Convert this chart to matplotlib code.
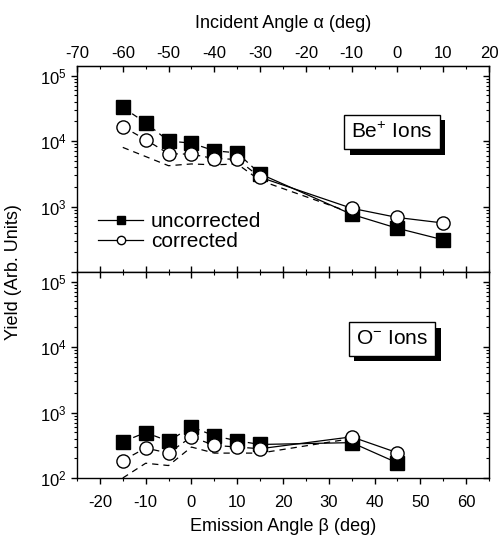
import matplotlib
matplotlib.use('Agg')
import matplotlib.pyplot as plt
import matplotlib.patheffects as pe
from matplotlib.lines import Line2D
from matplotlib.ticker import MultipleLocator, LogLocator, NullFormatter

plt.rcParams['font.family'] = ['Liberation Sans', 'DejaVu Sans']
plt.rcParams['mathtext.fontset'] = 'custom'
plt.rcParams['mathtext.rm'] = 'Liberation Sans'
plt.rcParams['mathtext.it'] = 'Liberation Sans:italic'
plt.rcParams['mathtext.default'] = 'regular'
plt.rcParams['axes.unicode_minus'] = False

# emission angle beta (deg)
beta = [-15, -10, -5, 0, 5, 10, 15, 35, 45, 55]

# Be+ ions
be_uncorr = [32600, 19000, 10000, 9300, 7100, 6600, 3150, 760, 465, 310]
be_corr = [16600, 10500, 6400, 6300, 5400, 5250, 2800, 940, 680, 560]
be_dash_x = [-15, -5, 0, 5, 10, 15, 35]
be_dash = [8000, 4200, 4470, 4330, 4470, 2500, 800]

# O- ions
o_beta = [-15, -10, -5, 0, 5, 10, 15, 35, 45]
o_uncorr = [357, 495, 365, 607, 440, 370, 325, 347, 170]
o_corr = [185, 287, 240, 425, 315, 297, 280, 425, 243]
o_dash_x = [-15, -10, -5, 0, 5, 10, 15, 35]
o_dash = [100, 168, 155, 297, 240, 240, 240, 400]

W, H = 500, 538
fig = plt.figure(figsize=(W / 100, H / 100), dpi=100)
left, width = 77 / W, 412 / W
ax1 = fig.add_axes([left, 1 - 272 / H, width, 206 / H])
ax2 = fig.add_axes([left, 1 - 478 / H, width, 206 / H])

dash = (0, (5, 4))
lw = 0.9


def draw(ax, x, unc, cor, dx, dy):
    n = 7  # dashed connection up to beta = 15
    ax.plot(x[:n], unc[:n], color='k', lw=lw, ls=dash, zorder=2)
    ax.plot(x[:n], cor[:n], color='k', lw=lw, ls=dash, zorder=2)
    ax.plot(x[n - 1:], unc[n - 1:], color='k', lw=lw, zorder=2)
    ax.plot(x[n - 1:], cor[n - 1:], color='k', lw=lw, zorder=2)
    ax.plot(dx, dy, color='k', lw=lw, ls=dash, zorder=1)
    ax.plot(x, unc, ls='none', marker='s', ms=10, mfc='k', mec='k', zorder=3)
    ax.plot(x, cor, ls='none', marker='o', ms=9.5, mfc='white', mec='k',
            mew=1, zorder=4)


draw(ax1, beta, be_uncorr, be_corr, be_dash_x, be_dash)
draw(ax2, o_beta, o_uncorr, o_corr, o_dash_x, o_dash)

for ax in (ax1, ax2):
    ax.set_yscale('log')
    ax.set_ylim(100, 1.4e5)
    ax.set_xlim(-25, 65)
    ax.xaxis.set_major_locator(MultipleLocator(10))
    ax.xaxis.set_minor_locator(MultipleLocator(5))
    ax.yaxis.set_major_locator(LogLocator(base=10, numticks=10))
    ax.yaxis.set_minor_locator(LogLocator(base=10, subs=range(2, 10), numticks=10))
    ax.yaxis.set_minor_formatter(NullFormatter())
    ax.tick_params(axis='y', which='both', left=True, right=True,
                   labelsize=12)
    ax.tick_params(axis='y', which='major', length=4, width=1)
    ax.tick_params(axis='y', which='minor', length=2.5, width=0.8)
    for s in ax.spines.values():
        s.set_linewidth(1)

# left ticks outward, right ticks inward
for ax in (ax1, ax2):
    ax.yaxis.set_tick_params(which='both', direction='out')
    for t in ax.yaxis.get_major_ticks() + ax.yaxis.get_minor_ticks():
        t.tick2line.set_marker(matplotlib.lines.TICKLEFT)

# the 10^2 label of the upper panel is hidden under the lower panel's 10^5
fig.canvas.draw()
for t in ax1.yaxis.get_major_ticks():
    if abs(t.get_loc() - 100) < 1:
        t.label1.set_visible(False)

ax1.tick_params(axis='x', which='both', bottom=True, top=False,
                labelbottom=False, direction='in')
ax1.tick_params(axis='x', which='major', length=4, width=1)
ax1.tick_params(axis='x', which='minor', length=2.5, width=0.8)

ax2.tick_params(axis='x', which='both', bottom=True, top=True,
                labelsize=12, pad=8)
ax2.tick_params(axis='x', which='major', length=4, width=1)
ax2.tick_params(axis='x', which='minor', length=2.5, width=0.8)
ax2.xaxis.set_tick_params(which='both', direction='out')
for t in ax2.xaxis.get_major_ticks() + ax2.xaxis.get_minor_ticks():
    t.tick2line.set_marker(matplotlib.lines.TICKDOWN)

# incident angle alpha = beta - 45
sec = ax1.secondary_xaxis('top', functions=(lambda b: b - 45, lambda a: a + 45))
sec.xaxis.set_major_locator(MultipleLocator(10))
sec.xaxis.set_minor_locator(MultipleLocator(5))
sec.tick_params(which='both', direction='in', labelsize=12)
sec.tick_params(which='major', length=4, width=1)
sec.tick_params(which='minor', length=2.5, width=0.8)
sec.set_xlabel('Incident Angle α (deg)', fontsize=13, labelpad=13)

ax2.set_xlabel('Emission Angle β (deg)', fontsize=13, labelpad=6)
fig.text(0.027, 1 - 272 / H, 'Yield (Arb. Units)', rotation=90,
         fontsize=13, ha='center', va='center')

handles = [
    Line2D([], [], color='k', lw=lw, marker='s', ms=6, mfc='k', mec='k'),
    Line2D([], [], color='k', lw=lw, marker='o', ms=6, mfc='white', mec='k'),
]
ax1.legend(handles, ['uncorrected', 'corrected'], loc='lower left',
           bbox_to_anchor=(0.05, 0.10), frameon=False, fontsize=15,
           handlelength=2.2, handletextpad=0.35, labelspacing=0.05,
           borderpad=0, borderaxespad=0)


def label_box(ax, x, y, s):
    t = ax.text(x, y, s, transform=ax.transAxes, fontsize=15,
                ha='center', va='center',
                bbox=dict(boxstyle='square,pad=0.35', fc='white', ec='k', lw=1))
    t.get_bbox_patch().set_path_effects([
        pe.SimplePatchShadow(offset=(4, -4), shadow_rgbFace='k', alpha=1),
        pe.Normal()])


label_box(ax1, (392 - 77) / 412, (272 - 132) / 206, 'Be$^{+}$ Ions')
label_box(ax2, (392 - 77) / 412, (478 - 339) / 206, 'O$^{-}$ Ions')

fig.savefig('out.png', dpi=100)
